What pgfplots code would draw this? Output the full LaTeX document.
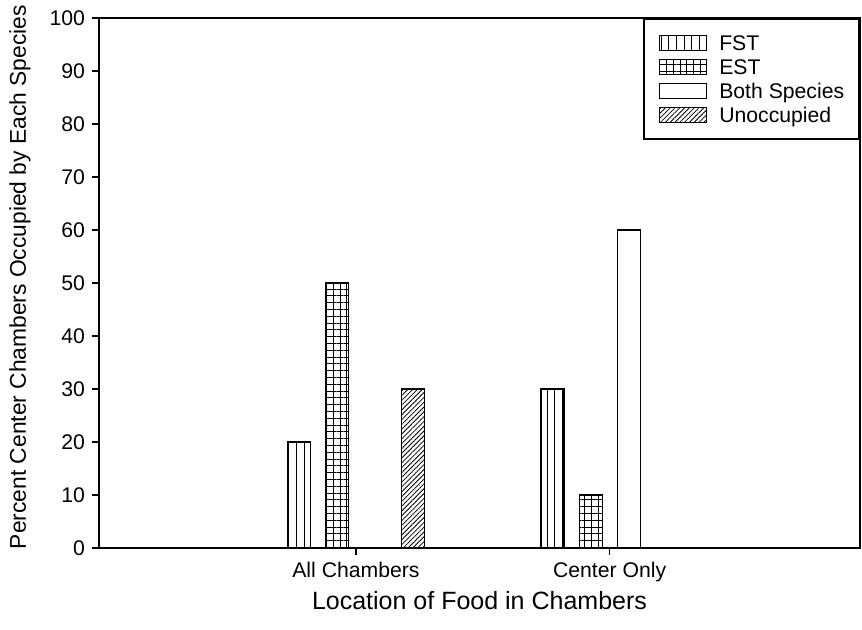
\documentclass[border=0pt]{standalone}
\usepackage{fontspec}
\setmainfont{Liberation Sans}
\usepackage{pgfplots}
\pgfplotsset{compat=1.18}
\usetikzlibrary{patterns.meta}

\begin{document}
\begin{tikzpicture}
\begin{axis}[
  at={(0,0)}, anchor=south west,
  scale only axis, width=380.5pt, height=265pt,
  xmin=-1.013, xmax=1.987, ymin=0, ymax=100,
  xtick={0,1}, xticklabels={All Chambers, Center Only},
  ytick={0,10,...,100},
  tick align=outside, xtick pos=bottom, ytick pos=left,
  major tick length=3.5pt,
  axis line style={line width=0.8pt},
  every tick/.style={black, line width=0.6pt},
  tick label style={font=\fontsize{10.6}{12}\selectfont},
  /pgf/number format/assume math mode=true,
  xlabel={Location of Food in Chambers},
  ylabel={Percent Center Chambers Occupied by Each Species},
  every axis x label/.style={at={(axis description cs:0.5,0)}, yshift=-26.5pt, anchor=center, font=\fontsize{12.5}{14}\selectfont},
  every axis y label/.style={at={(axis description cs:0,0.511)}, xshift=-39.5pt, rotate=90, anchor=center, font=\fontsize{11.4}{13}\selectfont},
  ybar, bar width=0.0907,
  legend style={at={(1,1)}, anchor=north east, draw=black, line width=0.8pt,
    font=\fontsize{10.6}{12}\selectfont, inner xsep=7.5pt, inner ysep=6pt,
    row sep=0pt, nodes={inner sep=0pt, text height=9.7pt, text depth=2.3pt}},
  legend cell align=left,
  legend image code/.code={\draw[line width=0.5pt,#1] (0pt,-3.75pt) rectangle (23.5pt,3.75pt); \path (29.5pt,0pt);},
]
\addplot[draw=black, line width=0.6pt, bar shift=-0.225, pattern={Lines[angle=90,distance=3.8pt,line width=0.4pt]}]
  coordinates {(0,20) (1,30)};
\addlegendentry{FST}
\addplot[draw=black, line width=0.6pt, bar shift=-0.075, pattern={Hatch[angle=0,distance=3.4pt,line width=0.4pt]}]
  coordinates {(0,50) (1,10)};
\addlegendentry{EST}
\addplot[draw=black, line width=0.6pt, bar shift=0.075, fill=white]
  coordinates {(0,0) (1,60)};
\addlegendentry{Both Species}
\addplot[draw=black, line width=0.6pt, bar shift=0.225, pattern={Lines[angle=45,distance=1.7pt,line width=0.4pt]}]
  coordinates {(0,30) (1,0)};
\addlegendentry{Unoccupied}
\end{axis}
\pgfresetboundingbox
\path[use as bounding box] (-49.5pt,-40.5pt) rectangle (381.5pt,274pt);
\end{tikzpicture}
\end{document}
